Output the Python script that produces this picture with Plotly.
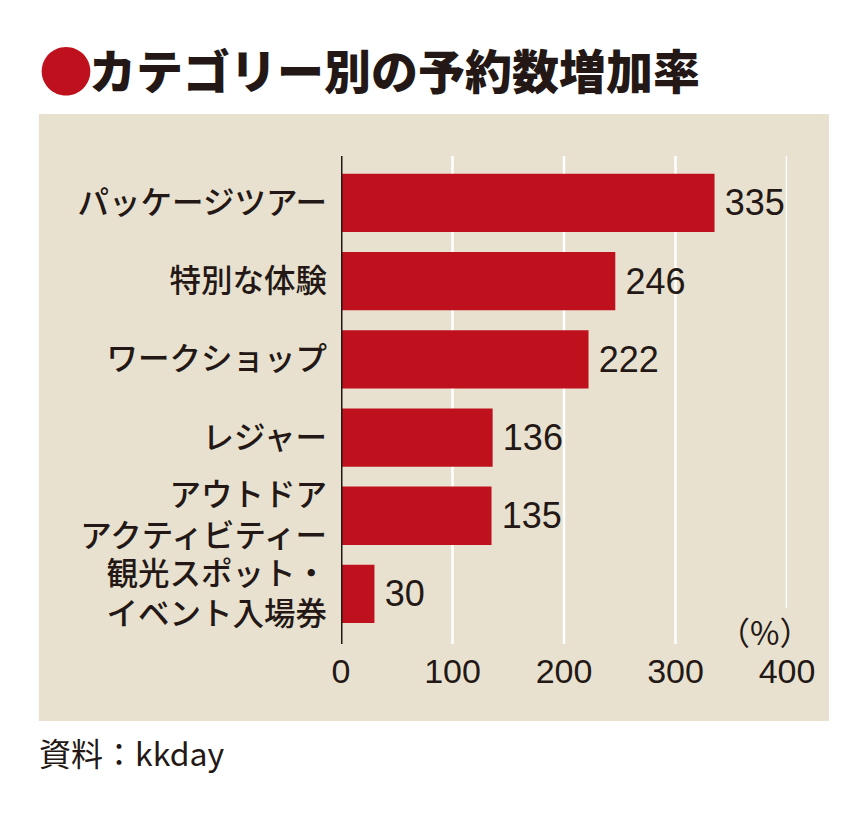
import plotly.graph_objects as go

# data
categories = ["パッケージツアー", "特別な体験", "ワークショップ", "レジャー",
              "アウトドア<br>アクティビティー", "観光スポット・<br>イベント入場券"]
values = [335, 246, 222, 136, 135, 30]
x_ticks = [0, 100, 200, 300, 400]

RED = "#BE111D"
INK = "#231815"
BEIGE = "#E8E1CF"
JP = "Noto Sans CJK JP"
NUM = "Liberation Sans, Arial"

OFF = 8  # page body margin in the browser
W, H = 868 - OFF, 813 - OFF
# plot area in page pixels
L, R = 340.5, 787
T, B = 156, 644


def px(x):
    return (x - L) / (R - L)


def py(y):
    return (B - y) / (B - T)


fig = go.Figure()

fig.add_trace(go.Bar(
    x=values, y=categories, orientation="h",
    marker=dict(color=RED, line=dict(width=0)),
    width=0.745,
    text=["\u2009%d" % v for v in values], textposition="outside",
    textfont=dict(family=NUM, size=36, color=INK),
    cliponaxis=False,
))

shapes = []
# beige panel
shapes.append(dict(type="rect", xref="paper", yref="paper", layer="below",
                   x0=px(38), x1=px(829), y0=py(721), y1=py(114),
                   fillcolor=BEIGE, line=dict(width=0)))
# white gridlines
for t in x_ticks[1:]:
    bot = py(608) if t == 400 else 0
    shapes.append(dict(type="line", xref="x", yref="paper", layer="below",
                       x0=t, x1=t, y0=bot, y1=1,
                       line=dict(color="white", width=2.5)))
# axis line at 0
shapes.append(dict(type="line", xref="x", yref="paper", layer="above",
                   x0=0, x1=0, y0=0, y1=1, line=dict(color=INK, width=3)))

annotations = [
    dict(text="●", xref="paper", yref="paper", x=px(36), y=py(68),
         xanchor="left", yanchor="middle", showarrow=False,
         font=dict(family=JP, size=54, color=RED)),
    dict(text="カテゴリー別の予約数増加率",
         xref="paper", yref="paper", x=px(86), y=py(68), xanchor="left", yanchor="middle",
         showarrow=False, font=dict(family=JP, size=47, color=INK, weight=900)),
    dict(text="（%）", xref="paper", yref="paper", x=px(764), y=py(631),
         xanchor="center", yanchor="middle", showarrow=False,
         font=dict(family=JP, size=32, color=INK)),
    dict(text="資料：kkday", xref="paper", yref="paper", x=px(36), y=py(752),
         xanchor="left", yanchor="middle", showarrow=False,
         font=dict(family=JP, size=32, color=INK)),
]

fig.update_layout(
    width=W, height=H,
    margin=dict(l=L - OFF, r=OFF + W - R, t=T - OFF, b=OFF + H - B, pad=0),
    paper_bgcolor="white", plot_bgcolor="rgba(0,0,0,0)",
    showlegend=False,
    shapes=shapes, annotations=annotations,
    xaxis=dict(range=[0, 400], tickvals=x_ticks, showgrid=False, zeroline=False,
               showline=False, ticks="", ticklabelstandoff=4,
               tickfont=dict(family=NUM, size=34, color=INK), fixedrange=True),
    yaxis=dict(autorange=False, range=[5.64, -0.6], showgrid=False, zeroline=False,
               showline=False, ticks="", ticklabelstandoff=13,
               tickfont=dict(family=JP, size=31.5, color=INK, weight=500), fixedrange=True),
)

fig.write_html("out.html")
